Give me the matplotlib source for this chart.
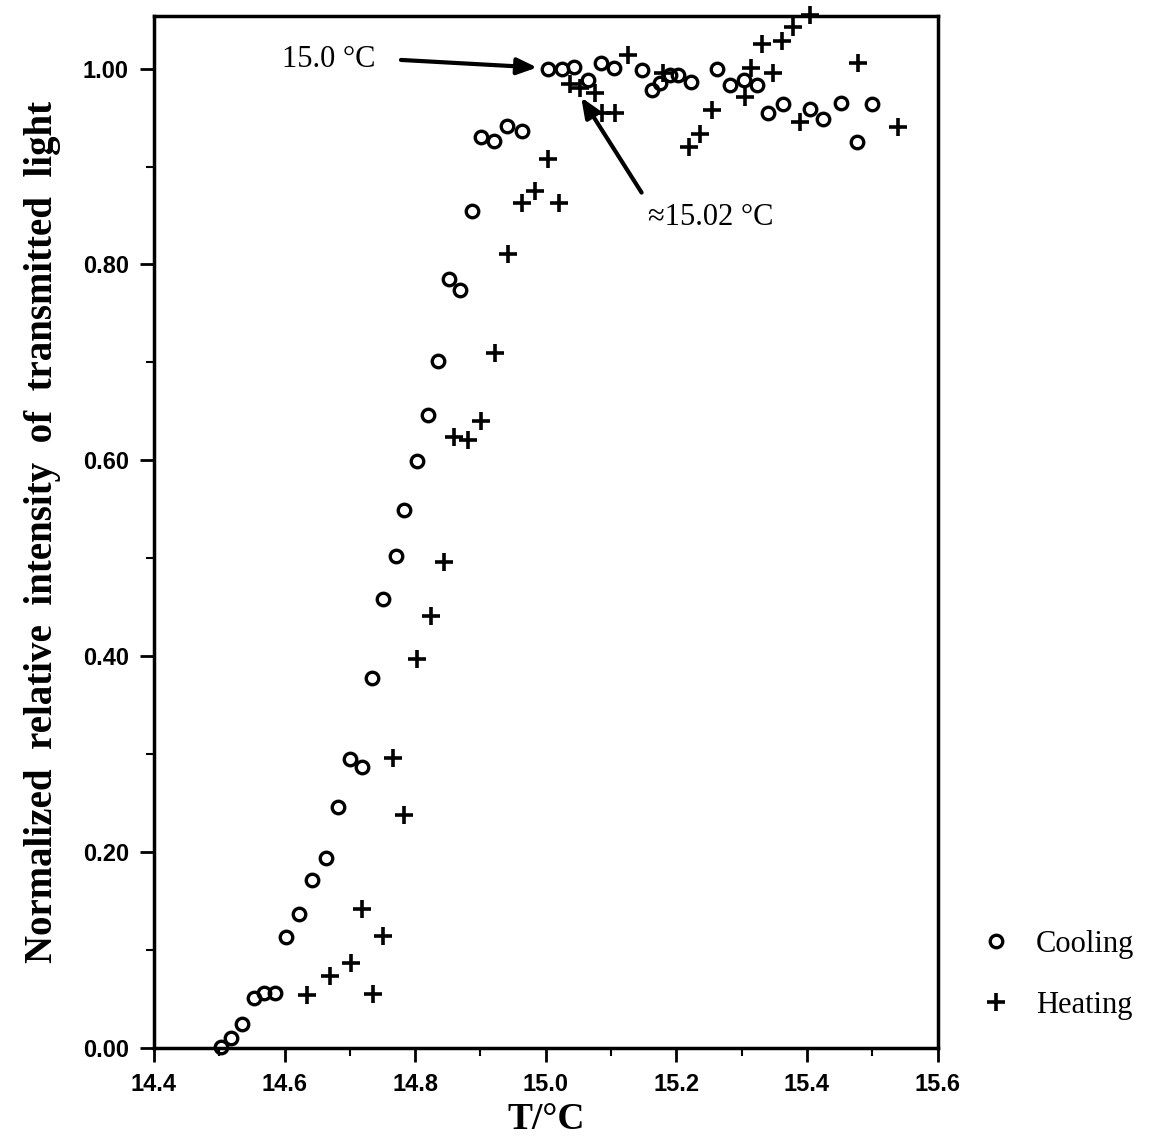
import numpy as np
import matplotlib.pyplot as plt
from matplotlib.ticker import MultipleLocator, FormatStrFormatter

# ------- data -------
cool_T = [14.503, 14.518, 14.535, 14.553, 14.568, 14.585, 14.602, 14.622, 14.642, 14.663,
          14.682, 14.700, 14.718, 14.734, 14.751, 14.770, 14.783, 14.803, 14.819, 14.835,
          14.852, 14.868, 14.887, 14.901, 14.920, 14.940, 14.963, 15.003, 15.025, 15.043,
          15.064, 15.084, 15.104, 15.147, 15.162, 15.175, 15.190, 15.202, 15.222, 15.262,
          15.282, 15.303, 15.323, 15.341, 15.363, 15.404, 15.424, 15.452, 15.476, 15.499]
cool_I = [0.001, 0.010, 0.025, 0.051, 0.056, 0.056, 0.113, 0.137, 0.172, 0.194,
          0.246, 0.295, 0.287, 0.378, 0.458, 0.502, 0.549, 0.599, 0.646, 0.701,
          0.785, 0.774, 0.855, 0.930, 0.926, 0.941, 0.936, 1.000, 1.000, 1.002,
          0.988, 1.006, 1.001, 0.999, 0.978, 0.985, 0.993, 0.993, 0.986, 1.000,
          0.983, 0.988, 0.983, 0.955, 0.964, 0.959, 0.949, 0.965, 0.925, 0.964]

heat_T = [14.634, 14.669, 14.702, 14.718, 14.735, 14.751, 14.766, 14.783, 14.803, 14.824,
          14.844, 14.859, 14.881, 14.901, 14.922, 14.942, 14.963, 14.983, 15.003, 15.020,
          15.037, 15.052, 15.075, 15.086, 15.106, 15.126, 15.179, 15.220, 15.236, 15.254,
          15.305, 15.315, 15.331, 15.348, 15.361, 15.378, 15.389, 15.404, 15.478, 15.539]
heat_I = [0.054, 0.074, 0.087, 0.142, 0.055, 0.114, 0.296, 0.238, 0.397, 0.441,
          0.496, 0.624, 0.621, 0.640, 0.710, 0.811, 0.863, 0.875, 0.908, 0.863,
          0.984, 0.980, 0.975, 0.955, 0.955, 1.014, 0.996, 0.920, 0.933, 0.958,
          0.971, 1.001, 1.025, 0.996, 1.028, 1.042, 0.945, 1.055, 1.006, 0.940]

serif = 'Liberation Serif'
sans = 'Liberation Sans'

# --------plotting-------
fig = plt.figure(figsize=(11.49, 11.47), dpi=100)
ax = fig.add_axes([0.134, 0.0863, 0.682, 0.900])

ax.plot(cool_T, cool_I, 'o', mfc='none', mec='k', mew=2.4, ms=9, label='Cooling', clip_on=False)
ax.plot(heat_T, heat_I, '+', color='k', mew=2.6, ms=13, label='Heating', clip_on=False)

ax.set_xlim(14.4, 15.6)
ax.set_ylim(0, 1.054)

ax.xaxis.set_major_locator(MultipleLocator(0.2))
ax.xaxis.set_minor_locator(MultipleLocator(0.1))
ax.yaxis.set_major_locator(MultipleLocator(0.2))
ax.yaxis.set_minor_locator(MultipleLocator(0.1))
ax.xaxis.set_major_formatter(FormatStrFormatter('%.1f'))
ax.yaxis.set_major_formatter(FormatStrFormatter('%.2f'))

ax.tick_params(which='major', direction='out', length=10, width=2, pad=8)
ax.tick_params(which='minor', direction='out', length=6, width=1.5)
for lab in ax.get_xticklabels() + ax.get_yticklabels():
    lab.set_fontfamily(sans)
    lab.set_fontsize(17)
    lab.set_fontweight('bold')

for s in ax.spines.values():
    s.set_linewidth(2.5)

ax.set_xlabel('T/°C', fontfamily=serif, fontsize=27, fontweight='bold', labelpad=4)
ax.set_ylabel('Normalized  relative  intensity  of  transmitted  light',
              fontfamily=serif, fontsize=28, fontweight='bold', labelpad=16)

# -------annotations------
ax.annotate('', xy=(14.991, 1.001), xytext=(14.774, 1.009),
            arrowprops=dict(arrowstyle='-|>,head_length=1.2,head_width=0.5', lw=3, color='k'))
ax.text(14.740, 1.009, '15.0 °C', fontfamily=serif, fontsize=22, ha='right', va='center')

ax.annotate('', xy=(15.052, 0.973), xytext=(15.149, 0.871),
            arrowprops=dict(arrowstyle='-|>,head_length=1.2,head_width=0.5', lw=3, color='k'))
ax.text(15.157, 0.848, '≈15.02 °C', fontfamily=serif, fontsize=22, ha='left', va='center')

leg = ax.legend(loc='center left', bbox_to_anchor=(1.02, 0.071), frameon=False,
                prop={'family': serif, 'size': 22}, handletextpad=0.8, labelspacing=1.05,
                handlelength=1.0)

plt.savefig('out.png', dpi=100)
